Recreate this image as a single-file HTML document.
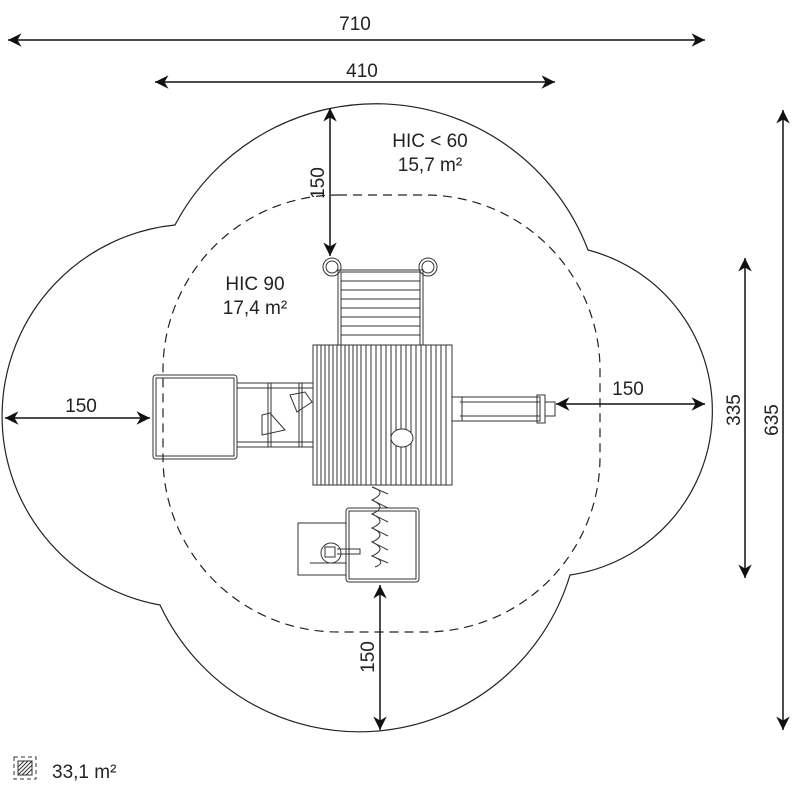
<!DOCTYPE html>
<html><head><style>body{margin:0;background:#fff}svg{display:block}text{font-family:"Liberation Sans",sans-serif;fill:#222}</style></head><body>
<svg width="800" height="800" viewBox="0 0 800 800">
<defs>
<marker id="a" viewBox="0 0 10 10" refX="10" refY="5" markerWidth="9" markerHeight="9" orient="auto-start-reverse"><path d="M0,0 L10,5 L0,10 L3,5 z" fill="#111"/></marker>
</defs>
<g fill="none" stroke="#222" stroke-width="1.2">
<path d="M175,225 A227,227 0 0 1 588,250 A166,166 0 0 1 570,575 A220,220 0 0 1 160,605 A192,192 0 0 1 175,225 Z"/>
<rect x="163" y="195" width="437" height="437" rx="175" stroke-dasharray="9,6"/>
</g>
<g stroke="#111" stroke-width="1.5" marker-start="url(#a)" marker-end="url(#a)">
<line x1="8" y1="40" x2="705" y2="40"/>
<line x1="155" y1="82" x2="555" y2="82"/>
<line x1="783" y1="110" x2="783" y2="730"/>
<line x1="745" y1="258" x2="745" y2="578"/>
<line x1="330" y1="108" x2="330" y2="256"/>
<line x1="5" y1="418" x2="150" y2="418"/>
<line x1="556" y1="404" x2="705" y2="404"/>
<line x1="380" y1="585" x2="380" y2="730"/>
</g>
<g font-size="19">
<text x="355" y="30" text-anchor="middle">710</text>
<text x="362" y="77" text-anchor="middle">410</text>
<text x="430" y="147" text-anchor="middle">HIC &lt; 60</text>
<text x="430" y="171" text-anchor="middle">15,7 m²</text>
<text x="255" y="290" text-anchor="middle">HIC 90</text>
<text x="255" y="314" text-anchor="middle">17,4 m²</text>
<text x="81" y="412" text-anchor="middle">150</text>
<text x="628" y="395" text-anchor="middle">150</text>
<text transform="translate(324,183) rotate(-90)" text-anchor="middle">150</text>
<text transform="translate(374,657) rotate(-90)" text-anchor="middle">150</text>
<text transform="translate(740,410) rotate(-90)" text-anchor="middle">335</text>
<text transform="translate(778,420) rotate(-90)" text-anchor="middle">635</text>
<text x="52" y="778">33,1 m²</text>
</g>
<g fill="none" stroke="#333" stroke-width="1">
<rect x="14" y="757" width="22" height="22" stroke-dasharray="4,3"/>
<rect x="18" y="761" width="14" height="14"/>
<path d="M18,767 L24,761 M18,771 L28,761 M18,775 L32,761 M22,775 L32,765 M26,775 L32,769" />
<rect x="338" y="270" width="85" height="75"/>
<rect x="341" y="272" width="79" height="73"/>
<path d="M341,281 H420 M341,290 H420 M341,299 H420 M341,308 H420 M341,317 H420 M341,326 H420 M341,335 H420"/>
<circle cx="332" cy="267" r="9"/><circle cx="332" cy="267" r="6"/>
<circle cx="428" cy="267" r="9"/><circle cx="428" cy="267" r="6"/>
<rect x="313" y="345" width="139" height="140"/>
<path d="M317,345V485 M321,345V485 M325,345V485 M329,345V485 M333,345V485 M337,345V485 M341,345V485 M345,345V485 M349,345V485 M353,345V485 M357,345V485 M361,345V485 M366,345V485 M371,345V485 M376,345V485 M381,345V485 M386,345V485 M391,345V485 M396,345V485 M401,345V485 M406,345V485 M411,345V485 M416,345V485 M421,345V485 M426,345V485 M431,345V485 M436,345V485 M441,345V485 M446,345V485"/>
<ellipse cx="402" cy="438" rx="11" ry="9" fill="#fff"/>
<rect x="153" y="375" width="84" height="84" rx="3"/>
<rect x="156" y="378" width="78" height="78"/>
<rect x="237" y="383" width="76" height="64"/>
<path d="M237,388 H313 M237,442 H313 M268,383 V447 M271,383 V447 M299,383 V447 M302,383 V447"/>
<path d="M262,415 L270,413 L285,430 L262,435 Z M290,395 L305,392 L312,402 L297,412 Z"/>
<rect x="452" y="397" width="88" height="24"/>
<path d="M460,402 H540 M460,416 H540 M462,397 V421"/>
<rect x="537" y="395" width="8" height="28"/>
<rect x="545" y="402" width="10" height="14"/>
<path d="M372,487 Q388,492 372,500 Q388,507 372,514 Q388,521 372,528 Q388,535 372,542 Q388,549 372,556 Q388,562 375,567 M372,487 L388,494 M372,500 L388,508 M372,514 L388,522 M372,528 L388,536 M372,542 L388,550 M372,556 L388,563"/>
<rect x="346" y="508" width="73" height="74" rx="3"/>
<rect x="349" y="511" width="67" height="68"/>
<rect x="298" y="523" width="48" height="52"/>
<circle cx="331" cy="553" r="10"/>
<rect x="325" y="547" width="10" height="10"/>
<path d="M337,549 H360 V554 H337 M310,563 H346"/>
</g>
</svg>
</body></html>
